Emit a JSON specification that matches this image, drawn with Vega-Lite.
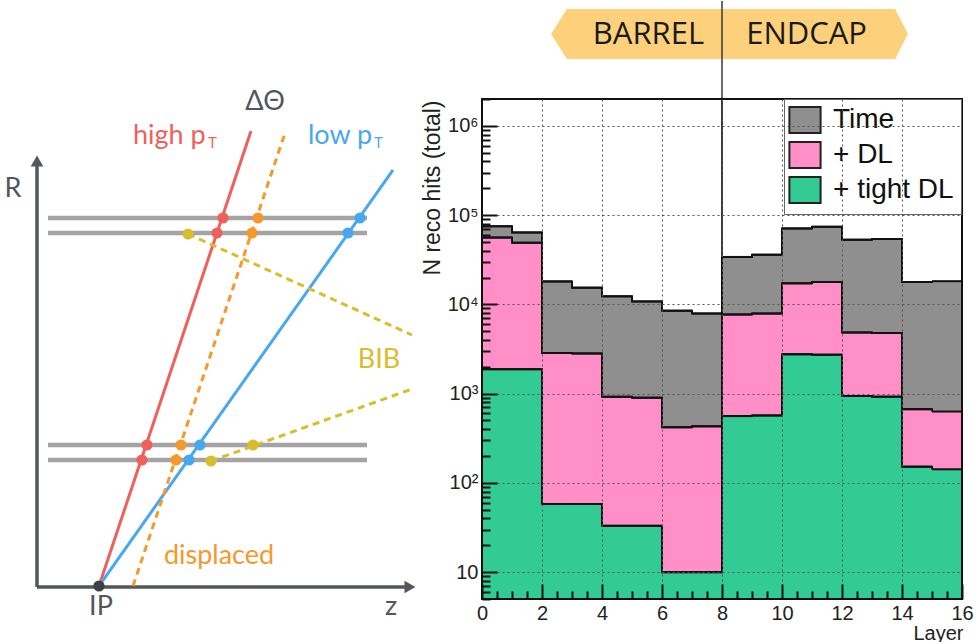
{
  "$schema": "https://vega.github.io/schema/vega-lite/v6.json",
  "padding": 0,
  "background": "white",
  "config": {"view": {"stroke": null}, "font": "Liberation Sans"},
  "datasets": {
    "tracks": [
      {"track": "high", "kind": "high", "z": 99, "R": 57}, {"track": "high", "kind": "high", "z": 251, "R": 512},
      {"track": "low", "kind": "low", "z": 99, "R": 57}, {"track": "low", "kind": "low", "z": 393, "R": 473},
      {"track": "displaced", "kind": "displaced", "z": 133, "R": 57}, {"track": "displaced", "kind": "displaced", "z": 285, "R": 510},
      {"track": "BIB1", "kind": "BIB", "z": 188, "R": 409}, {"track": "BIB1", "kind": "BIB", "z": 412, "R": 308},
      {"track": "BIB2", "kind": "BIB", "z": 211, "R": 182}, {"track": "BIB2", "kind": "BIB", "z": 412, "R": 254}
    ],
    "layers": [
      {"z1": 48, "z2": 367, "R": 425}, {"z1": 48, "z2": 367, "R": 410},
      {"z1": 48, "z2": 367, "R": 198}, {"z1": 48, "z2": 367, "R": 183}
    ],
    "hits": [
      {"kind": "high", "z": 223, "R": 425}, {"kind": "high", "z": 217, "R": 410}, {"kind": "high", "z": 147, "R": 198}, {"kind": "high", "z": 142, "R": 183},
      {"kind": "displaced", "z": 258, "R": 425}, {"kind": "displaced", "z": 252, "R": 410}, {"kind": "displaced", "z": 181, "R": 198}, {"kind": "displaced", "z": 176, "R": 183},
      {"kind": "low", "z": 360, "R": 425}, {"kind": "low", "z": 348, "R": 410}, {"kind": "low", "z": 200, "R": 198}, {"kind": "low", "z": 189, "R": 183},
      {"kind": "BIB", "z": 188, "R": 409}, {"kind": "BIB", "z": 253, "R": 198}, {"kind": "BIB", "z": 211, "R": 182},
      {"kind": "ip", "z": 99, "R": 57}
    ],
    "labels": [
      {"kind": "axis", "text": "ΔΘ", "z": 265, "R": 541},
      {"kind": "axis", "text": "R", "z": 13, "R": 454},
      {"kind": "axis", "text": "IP", "z": 101, "R": 36},
      {"kind": "axis", "text": "z", "z": 391, "R": 36},
      {"kind": "BIB", "text": "BIB", "z": 379, "R": 283},
      {"kind": "displaced", "text": "displaced", "z": 219, "R": 87}
    ],
    "ptlabels": [
      {"kind": "high", "text": "high p", "z": 133, "R": 499},
      {"kind": "low", "text": "low p", "z": 308, "R": 499}
    ],
    "subs": [
      {"kind": "high", "text": "T", "z": 208, "R": 495},
      {"kind": "low", "text": "T", "z": 374, "R": 495}
    ],
    "axes": [
      {"z1": 37, "z2": 37, "R1": 56, "R2": 478},
      {"z1": 37, "z2": 406, "R1": 56, "R2": 56}
    ],
    "arrows": [
      {"dir": "up", "z": 37, "R": 482},
      {"dir": "right", "z": 410, "R": 56}
    ],
    "banner": [
      {"bx": 2.3, "top": 65, "bot": 65},
      {"bx": 2.83, "top": 90, "bot": 40},
      {"bx": 13.77, "top": 90, "bot": 40},
      {"bx": 14.2, "top": 65, "bot": 65}
    ],
    "bannertext": [
      {"label": "BARREL", "bx": 5.55, "by": 64},
      {"label": "ENDCAP", "bx": 10.82, "by": 64}
    ],
    "hist": [
      {"series": "Time", "lo": 0, "hi": 1, "n": 75000}, {"series": "Time", "lo": 1, "hi": 2, "n": 64000},
      {"series": "Time", "lo": 2, "hi": 3, "n": 18100}, {"series": "Time", "lo": 3, "hi": 4, "n": 15400},
      {"series": "Time", "lo": 4, "hi": 5, "n": 12300}, {"series": "Time", "lo": 5, "hi": 6, "n": 10800},
      {"series": "Time", "lo": 6, "hi": 7, "n": 8500}, {"series": "Time", "lo": 7, "hi": 8, "n": 7900},
      {"series": "Time", "lo": 8, "hi": 9, "n": 34000}, {"series": "Time", "lo": 9, "hi": 10, "n": 36000},
      {"series": "Time", "lo": 10, "hi": 11, "n": 71000}, {"series": "Time", "lo": 11, "hi": 12, "n": 74000},
      {"series": "Time", "lo": 12, "hi": 13, "n": 53000}, {"series": "Time", "lo": 13, "hi": 14, "n": 54000},
      {"series": "Time", "lo": 14, "hi": 15, "n": 17800}, {"series": "Time", "lo": 15, "hi": 16, "n": 18200},
      {"series": "+ DL", "lo": 0, "hi": 1, "n": 56000}, {"series": "+ DL", "lo": 1, "hi": 2, "n": 49000},
      {"series": "+ DL", "lo": 2, "hi": 3, "n": 2850}, {"series": "+ DL", "lo": 3, "hi": 4, "n": 2820},
      {"series": "+ DL", "lo": 4, "hi": 5, "n": 920}, {"series": "+ DL", "lo": 5, "hi": 6, "n": 900},
      {"series": "+ DL", "lo": 6, "hi": 7, "n": 420}, {"series": "+ DL", "lo": 7, "hi": 8, "n": 430},
      {"series": "+ DL", "lo": 8, "hi": 9, "n": 7700}, {"series": "+ DL", "lo": 9, "hi": 10, "n": 7900},
      {"series": "+ DL", "lo": 10, "hi": 11, "n": 17200}, {"series": "+ DL", "lo": 11, "hi": 12, "n": 17800},
      {"series": "+ DL", "lo": 12, "hi": 13, "n": 4840}, {"series": "+ DL", "lo": 13, "hi": 14, "n": 4780},
      {"series": "+ DL", "lo": 14, "hi": 15, "n": 670}, {"series": "+ DL", "lo": 15, "hi": 16, "n": 630},
      {"series": "+ tight DL", "lo": 0, "hi": 1, "n": 1880}, {"series": "+ tight DL", "lo": 1, "hi": 2, "n": 1880},
      {"series": "+ tight DL", "lo": 2, "hi": 3, "n": 58}, {"series": "+ tight DL", "lo": 3, "hi": 4, "n": 58},
      {"series": "+ tight DL", "lo": 4, "hi": 5, "n": 33}, {"series": "+ tight DL", "lo": 5, "hi": 6, "n": 33},
      {"series": "+ tight DL", "lo": 6, "hi": 7, "n": 10}, {"series": "+ tight DL", "lo": 7, "hi": 8, "n": 10},
      {"series": "+ tight DL", "lo": 8, "hi": 9, "n": 560}, {"series": "+ tight DL", "lo": 9, "hi": 10, "n": 570},
      {"series": "+ tight DL", "lo": 10, "hi": 11, "n": 2760}, {"series": "+ tight DL", "lo": 11, "hi": 12, "n": 2730},
      {"series": "+ tight DL", "lo": 12, "hi": 13, "n": 940}, {"series": "+ tight DL", "lo": 13, "hi": 14, "n": 925},
      {"series": "+ tight DL", "lo": 14, "hi": 15, "n": 152}, {"series": "+ tight DL", "lo": 15, "hi": 16, "n": 142}
    ]
  },
  "spacing": 62,
  "bounds": "flush",
  "resolve": {
    "scale": {"x": "independent", "y": "independent", "color": "independent", "strokeDash": "independent", "shape": "independent"},
    "legend": {"color": "independent"}
  },
  "hconcat": [
    {
      "width": 420,
      "height": 642,
      "encoding": {
        "x": {"type": "quantitative", "scale": {"domain": [0, 420], "nice": false, "zero": false}, "axis": null},
        "y": {"type": "quantitative", "scale": {"domain": [0, 642], "nice": false, "zero": false}, "axis": null}
      },
      "layer": [
        {
          "data": {"name": "layers"},
          "mark": {"type": "rule", "color": "#a4a4a4", "strokeWidth": 4.5},
          "encoding": {
            "x": {"field": "z1", "type": "quantitative"},
            "x2": {"field": "z2"},
            "y": {"field": "R", "type": "quantitative"}
          }
        },
        {
          "data": {"name": "axes"},
          "mark": {"type": "rule", "color": "#53575d", "strokeWidth": 3.5},
          "encoding": {
            "x": {"field": "z1", "type": "quantitative"},
            "x2": {"field": "z2"},
            "y": {"field": "R1", "type": "quantitative"},
            "y2": {"field": "R2"}
          }
        },
        {
          "data": {"name": "arrows"},
          "mark": {"type": "point", "filled": true, "color": "#53575d", "opacity": 1, "size": 160},
          "encoding": {
            "x": {"field": "z", "type": "quantitative"},
            "y": {"field": "R", "type": "quantitative"},
            "shape": {"field": "dir", "type": "nominal", "scale": {"domain": ["up", "right"], "range": ["triangle-up", "triangle-right"]}, "legend": null}
          }
        },
        {
          "data": {"name": "tracks"},
          "mark": {"type": "line", "strokeWidth": 3},
          "encoding": {
            "x": {"field": "z", "type": "quantitative"},
            "y": {"field": "R", "type": "quantitative"},
            "detail": {"field": "track"},
            "color": {"field": "kind", "type": "nominal", "scale": {"domain": ["high", "low", "displaced", "BIB", "axis", "ip"], "range": ["#ef5f5c", "#49a7f0", "#f5992b", "#d8bd2d", "#53575d", "#3d4147"]}, "legend": null},
            "strokeDash": {"field": "kind", "type": "nominal", "scale": {"domain": ["high", "low", "displaced", "BIB"], "range": [[1, 0], [1, 0], [7, 5], [7, 5]]}, "legend": null}
          }
        },
        {
          "data": {"name": "hits"},
          "mark": {"type": "circle", "size": 125, "opacity": 1},
          "encoding": {
            "x": {"field": "z", "type": "quantitative"},
            "y": {"field": "R", "type": "quantitative"},
            "color": {"field": "kind", "type": "nominal", "legend": null}
          }
        },
        {
          "data": {"name": "labels"},
          "mark": {"type": "text", "font": "Lato", "fontSize": 27, "align": "center", "baseline": "middle"},
          "encoding": {
            "x": {"field": "z", "type": "quantitative"},
            "y": {"field": "R", "type": "quantitative"},
            "text": {"field": "text"},
            "color": {"field": "kind", "type": "nominal", "legend": null}
          }
        },
        {
          "data": {"name": "ptlabels"},
          "mark": {"type": "text", "font": "Lato", "fontSize": 27, "align": "left", "baseline": "alphabetic"},
          "encoding": {
            "x": {"field": "z", "type": "quantitative"},
            "y": {"field": "R", "type": "quantitative"},
            "text": {"field": "text"},
            "color": {"field": "kind", "type": "nominal", "legend": null}
          }
        },
        {
          "data": {"name": "subs"},
          "mark": {"type": "text", "font": "Lato", "fontSize": 15, "align": "left", "baseline": "alphabetic"},
          "encoding": {
            "x": {"field": "z", "type": "quantitative"},
            "y": {"field": "R", "type": "quantitative"},
            "text": {"field": "text"},
            "color": {"field": "kind", "type": "nominal", "legend": null}
          }
        }
      ]
    },
    {
      "spacing": 0,
      "bounds": "flush",
      "resolve": {"scale": {"x": "independent", "y": "independent", "color": "independent"}},
      "vconcat": [
        {
          "width": 480,
          "height": 98,
          "layer": [
            {
              "data": {"name": "banner"},
              "mark": {"type": "area", "color": "#fdd07c", "opacity": 1},
              "encoding": {
                "x": {"field": "bx", "type": "quantitative", "scale": {"domain": [0, 16], "nice": false, "zero": false}, "axis": null},
                "y": {"field": "top", "type": "quantitative", "scale": {"domain": [0, 98], "nice": false, "zero": false}, "axis": null},
                "y2": {"field": "bot"}
              }
            },
            {
              "data": {"name": "bannertext"},
              "mark": {"type": "text", "font": "Open Sans", "fontSize": 31, "color": "#1a1a1a", "align": "center", "baseline": "middle"},
              "encoding": {
                "x": {"field": "bx", "type": "quantitative", "axis": null},
                "y": {"field": "by", "type": "quantitative", "axis": null},
                "text": {"field": "label"}
              }
            },
            {
              "data": {"values": [{"edge": 8, "y0": 0, "y1": 98}]},
              "mark": {"type": "rule", "color": "#3a3a3a", "strokeWidth": 1.5},
              "encoding": {
                "x": {"field": "edge", "type": "quantitative", "axis": null},
                "y": {"field": "y0", "type": "quantitative", "axis": null},
                "y2": {"field": "y1"}
              }
            }
          ]
        },
        {
          "width": 480,
          "height": 500,
          "data": {"name": "hist"},
          "resolve": {"axis": {"x": "independent", "y": "independent"}},
          "layer": [
            {
              "mark": {"type": "rect", "opacity": 1},
              "encoding": {
                "x": {
                  "field": "lo", "type": "quantitative",
                  "scale": {"domain": [0, 16], "nice": false, "zero": false},
                  "axis": {
                    "orient": "bottom",
                    "values": [0.5, 1, 1.5, 2.5, 3, 3.5, 4.5, 5, 5.5, 6.5, 7, 7.5, 8.5, 9, 9.5, 10.5, 11, 11.5, 12.5, 13, 13.5, 14.5, 15, 15.5],
                    "labels": false, "grid": false, "title": null, "domain": false,
                    "offset": -8, "tickSize": 8, "tickColor": "#111", "tickWidth": 2,
                    "zindex": 1
                  }
                },
                "x2": {"field": "hi"},
                "y": {
                  "field": "n", "type": "quantitative",
                  "scale": {"type": "log", "domain": [5, 2000000], "nice": false, "zero": false},
                  "axis": {
                    "orient": "left",
                    "values": [5, 6, 7, 8, 9, 20, 30, 40, 50, 60, 70, 80, 90, 200, 300, 400, 500, 600, 700, 800, 900, 2000, 3000, 4000, 5000, 6000, 7000, 8000, 9000, 20000, 30000, 40000, 50000, 60000, 70000, 80000, 90000, 200000, 300000, 400000, 500000, 600000, 700000, 800000, 900000, 2000000],
                    "labels": false, "grid": false, "title": null, "domain": false,
                    "offset": -8, "tickSize": 8, "tickColor": "#111", "tickWidth": 2,
                    "zindex": 1
                  }
                },
                "y2": {"datum": 5},
                "color": {
                  "field": "series", "type": "nominal",
                  "scale": {"domain": ["Time", "+ DL", "+ tight DL"], "range": ["#8f8f8f", "#ff8fc6", "#33cb95"]},
                  "legend": {
                    "orient": "none", "legendX": 302, "legendY": 0, "title": null,
                    "symbolType": "M-1.2,-1H1.2V1H-1.2Z", "symbolSize": 676, "symbolOpacity": 1,
                    "labelFontSize": 28, "labelFont": "Liberation Sans", "labelColor": "#111", "labelOffset": 14,
                    "labelExpr": "datum.label + '\u00a0'",
                    "rowPadding": 1, "padding": 7, "strokeColor": "#666", "fillColor": "white",
                    "encode": {"symbols": {"update": {"stroke": {"value": "#222"}, "strokeWidth": {"value": 2}}}}
                  }
                }
              }
            },
            {
              "mark": {"type": "line", "interpolate": "step-after", "color": "#111", "strokeWidth": 2},
              "encoding": {
                "x": {
                  "field": "lo", "type": "quantitative",
                  "axis": {
                    "orient": "bottom",
                    "values": [0, 2, 4, 6, 8, 10, 12, 14, 16],
                    "format": "d",
                    "labelFlush": false, "labelOverlap": false,
                    "labelFontSize": 20, "labelColor": "#222", "labelPadding": 4,
                    "offset": -15, "tickSize": 15, "tickColor": "#111", "tickWidth": 2,
                    "domain": false, "grid": false,
                    "title": "Layer", "titleX": 481, "titleY": 49, "titleAlign": "right", "titleBaseline": "middle",
                    "titleFontSize": 20, "titleFontWeight": "normal", "titleColor": "#222",
                    "zindex": 1
                  }
                },
                "y": {
                  "field": "n", "type": "quantitative",
                  "axis": {
                    "orient": "left",
                    "values": [10, 100, 1000, 10000, 100000, 1000000],
                    "labelExpr": "datum.value == 10 ? '10' : datum.value == 100 ? '10²' : datum.value == 1000 ? '10³' : datum.value == 10000 ? '10⁴' : datum.value == 100000 ? '10⁵' : '10⁶'",
                    "labelOverlap": false,
                    "labelFontSize": 20, "labelColor": "#222", "labelPadding": 4,
                    "offset": -15, "tickSize": 15, "tickColor": "#111", "tickWidth": 2,
                    "domain": false, "grid": false,
                    "title": "N reco hits (total)", "titleX": -65, "titleY": 1, "titleAngle": -90,
                    "titleAlign": "right", "titleBaseline": "middle",
                    "titleFontSize": 23, "titleFontWeight": "normal", "titleColor": "#222",
                    "zindex": 1
                  }
                },
                "detail": {"field": "series"}
              }
            },
            {
              "mark": {"type": "rule", "color": "#111", "strokeWidth": 2},
              "encoding": {
                "x": {
                  "field": "lo", "type": "quantitative",
                  "axis": {
                    "orient": "bottom", "values": [2, 4, 6, 8, 10, 12, 14],
                    "grid": true, "gridColor": "#555", "gridDash": [2, 3], "gridWidth": 1,
                    "labels": false, "ticks": false, "domain": false, "title": null, "zindex": 1
                  }
                },
                "x2": {"field": "hi"},
                "y": {
                  "field": "n", "type": "quantitative",
                  "axis": {
                    "orient": "left", "values": [10, 100, 1000, 10000, 100000, 1000000],
                    "grid": true, "gridColor": "#555", "gridDash": [2, 3], "gridWidth": 1,
                    "labels": false, "ticks": false, "domain": false, "title": null, "zindex": 1
                  }
                }
              }
            },
            {
              "mark": {"type": "rule", "color": "#3a3a3a", "strokeWidth": 1.5},
              "encoding": {
                "x": {"datum": 8, "type": "quantitative", "axis": null},
                "y": {"datum": 2000000, "type": "quantitative", "axis": null},
                "y2": {"datum": 34000}
              }
            },
            {
              "mark": {"type": "rect", "filled": false, "color": "#111", "strokeWidth": 1.5},
              "encoding": {
                "x": {"datum": 0, "type": "quantitative", "axis": null},
                "x2": {"datum": 16},
                "y": {"datum": 5, "type": "quantitative", "axis": null},
                "y2": {"datum": 2000000}
              }
            }
          ]
        }
      ]
    }
  ]
}
